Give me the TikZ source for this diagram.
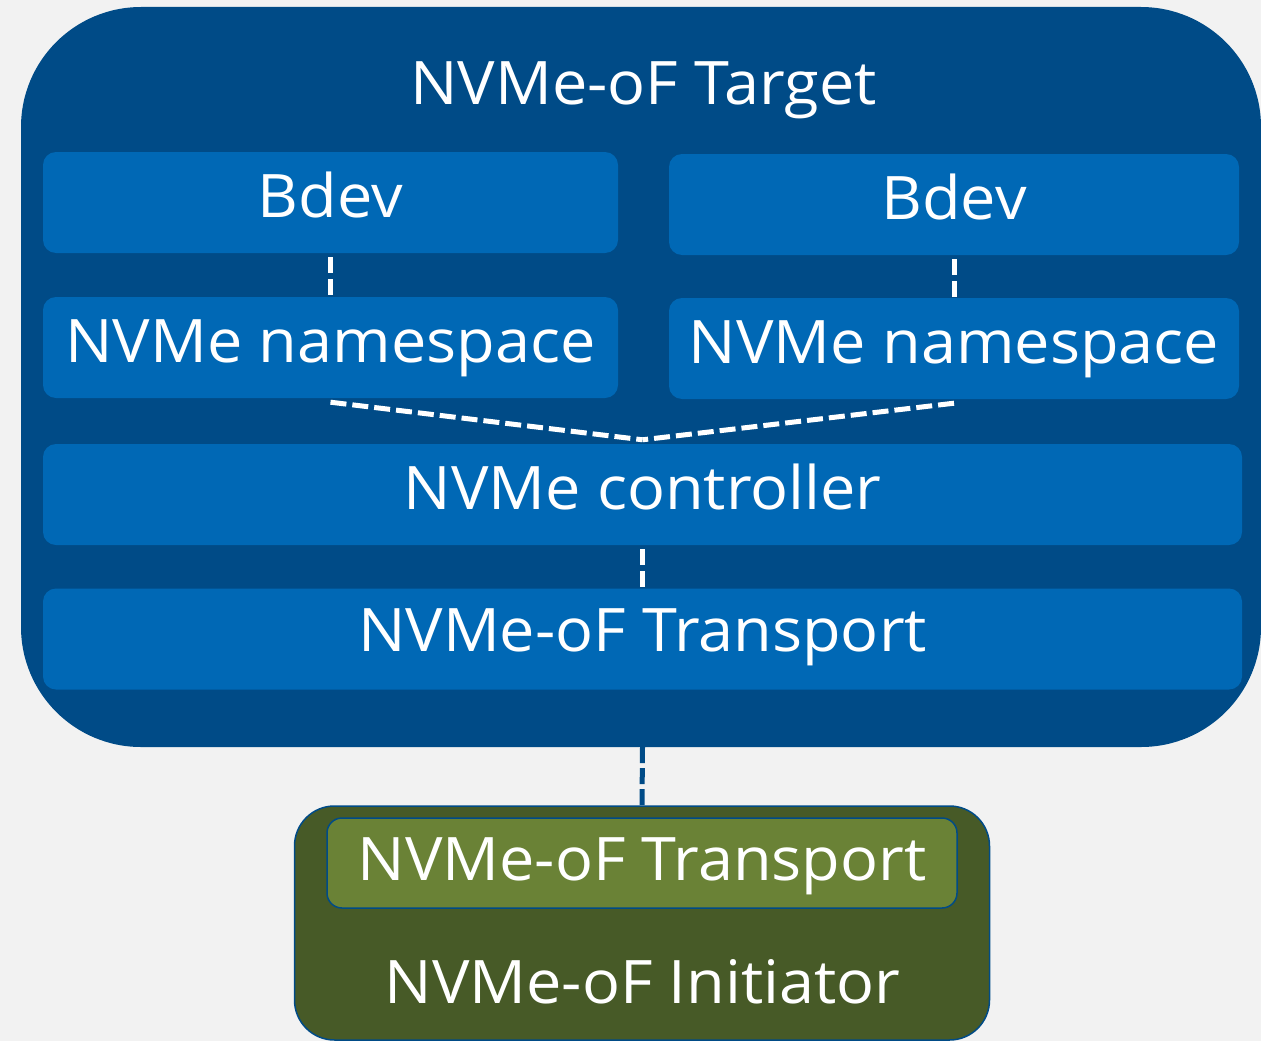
\documentclass[tikz,border=0pt]{standalone}
\usepackage{fontspec}
\setmainfont{Open Sans}[FakeStretch=1.05]
\usetikzlibrary{calc}
\definecolor{pagebg}{HTML}{F2F2F2}
\definecolor{targetblue}{HTML}{004B87}
\definecolor{layerblue}{HTML}{0068B5}
\definecolor{initdark}{HTML}{475A27}
\definecolor{initlight}{HTML}{6A8236}
\tikzset{
  lbl/.style={text=white, font=\fontsize{60}{70}\selectfont, inner sep=0pt},
  layer/.style={lbl, fill=layerblue, rounded corners=13pt, minimum height=101pt,
                text height=30pt, text depth=0pt},
  link/.style={white, line width=5pt, dash pattern=on 16pt off 6pt},
  uplink/.style={targetblue, line width=5pt, dash pattern=on 16pt off 5pt},
}
\begin{document}
\begin{tikzpicture}[x=1pt, y=-1pt]
  % canvas
  \fill[pagebg] (0,0) rectangle (1261,1041);
  \useasboundingbox (0,0) rectangle (1261,1041);

  % target container
  \node[fill=targetblue, rounded corners=120pt, minimum width=1240pt, minimum height=740pt, inner sep=0pt]
    (target) at (641,377) {};
  \node[lbl, anchor=base] (targetTitle) at (643.5,104) {NVMe-oF Target};

  % target layers
  \node[layer, minimum width=575pt] (bdevL) at (330.5,202.5) {Bdev};
  \node[layer, minimum width=570pt] (bdevR) at (954,204.5) {Bdev};
  \node[layer, minimum width=575pt] (nsL) at (330.5,347.5) {NVMe namespace};
  \node[layer, minimum width=570pt] (nsR) at (954,348.5) {NVMe namespace};
  \node[layer, minimum width=1199pt] (ctrl) at (642.5,494.5) {NVMe controller};
  \node[layer, minimum width=1199pt, text height=24pt] (trT) at (642.5,639) {NVMe-oF Transport};

  % initiator
  \node[fill=initdark, draw=targetblue, line width=1.5pt, rounded corners=40pt,
        minimum width=695pt, minimum height=234pt, inner sep=0pt] (init) at (642,923) {};
  \node[lbl, fill=initlight, draw=targetblue, line width=1.5pt, rounded corners=15pt,
        minimum width=630pt, minimum height=90pt, text height=34pt, text depth=0pt]
    (trI) at (642,863) {NVMe-oF Transport};
  \node[lbl, anchor=base] (initTitle) at (642.5,1003) {NVMe-oF Initiator};

  % connectors
  \coordinate (ctrlTop) at ($(ctrl.north)+(0,-4)$);
  \draw[link, shorten <=4pt] (bdevL.south) -- (nsL.north);
  \draw[link, shorten <=4pt] (bdevR.south) -- (nsR.north);
  \draw[link] ($(nsL.south)+(0,4)$) -- (ctrlTop);
  \draw[link] ($(nsR.south)+(0,4)$) -- (ctrlTop);
  \draw[link, shorten <=4pt] (ctrl.south) -- (trT.north);
  \draw[uplink] (trT.south |- target.south) -- (init.north);
\end{tikzpicture}
\end{document}
